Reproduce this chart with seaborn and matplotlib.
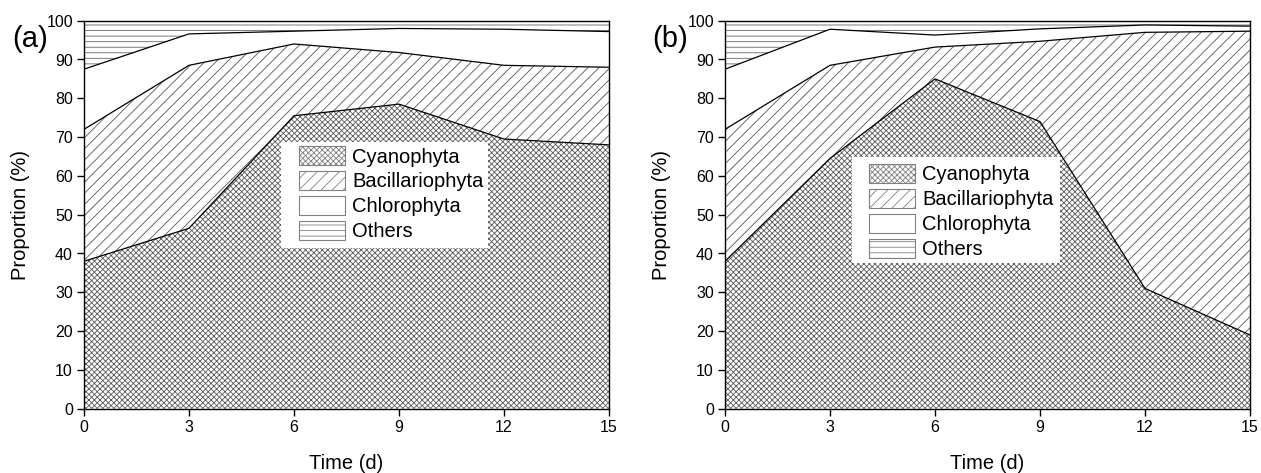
import numpy as np
import pandas as pd
import matplotlib
matplotlib.use("Agg")
import matplotlib.pyplot as plt
import seaborn as sns
from matplotlib.patches import Patch, Rectangle

# ---------------- data (proportions, %) ----------------
time_days = [0, 3, 6, 9, 12, 15]
groups = ["Cyanophyta", "Bacillariophyta", "Chlorophyta", "Others"]

a_cyano = [38.0, 46.5, 75.5, 78.5, 69.5, 68.0]
a_bacil = [34.0, 42.0, 18.5, 13.3, 19.0, 20.0]
a_chloro = [15.5, 8.1, 3.3, 6.2, 9.3, 9.2]

b_cyano = [38.0, 64.5, 85.0, 74.0, 31.0, 19.0]
b_bacil = [34.0, 24.0, 8.2, 20.7, 66.0, 78.3]
b_chloro = [15.5, 9.3, 3.1, 3.2, 1.9, 1.3]

panel_labels = ["(a)", "(b)"]
x_ticks = [0, 3, 6, 9, 12, 15]
y_ticks = list(range(0, 101, 10))

# ---------------- style ----------------
sns.set_theme(style="ticks")
plt.rcParams["font.family"] = ["Liberation Sans", "DejaVu Sans"]
plt.rcParams["hatch.linewidth"] = 0.6
for k in ["text.color", "axes.labelcolor", "xtick.color", "ytick.color"]:
    plt.rcParams[k] = "black"

hatches = ["xxxxxx", "///", "", "---"]
hatch_colors = ["#5a5a5a", "#555555", "#ffffff", "#666666"]

fig = plt.figure(figsize=(12.61, 4.73), dpi=100)
W, H = 1261, 473
ax_a = fig.add_axes([84 / W, 1 - 408.7 / H, 525 / W, 388 / H])
ax_b = fig.add_axes([725 / W, 1 - 408.7 / H, 525 / W, 388 / H])

# legend layout: (white box x0, x1, y_bottom, y_top), (anchor of legend contents), panel-label x
panels = [
    (ax_a, a_cyano, a_bacil, a_chloro, (0.3752, 0.7695, 0.414, 0.6874), (0.4095, 0.677), 12),
    (ax_b, b_cyano, b_bacil, b_chloro, (0.2419, 0.638, 0.3755, 0.6487), (0.2743, 0.631), 652),
]

for idx, (ax, cy, ba, ch, box, leg_pos, lab_x) in enumerate(panels):
    others = [100 - (c + b + h) for c, b, h in zip(cy, ba, ch)]
    df = pd.DataFrame({"time": time_days, groups[0]: cy, groups[1]: ba,
                       groups[2]: ch, groups[3]: others})
    cum = df[groups].cumsum(axis=1)
    lower = np.zeros(len(time_days))
    for g, hatch, hc in zip(groups, hatches, hatch_colors):
        upper = cum[g].to_numpy()
        ax.fill_between(df["time"], lower, upper, facecolor="white",
                        edgecolor=hc, hatch=hatch, linewidth=0, zorder=1)
        lower = upper
    for g in groups[:3]:
        sns.lineplot(x=df["time"], y=cum[g], ax=ax, color="black",
                     linewidth=0.9, zorder=3, legend=False)

    ax.set_xlim(0, 15)
    ax.set_ylim(0, 100)
    ax.set_xticks(x_ticks)
    ax.set_yticks(y_ticks)
    ax.tick_params(axis="both", direction="out", length=5, width=1,
                   labelsize=11.5, colors="black", pad=3)
    for s in ax.spines.values():
        s.set_linewidth(1.0)
        s.set_color("black")
        s.set_zorder(5)
    ax.set_xlabel("Time (d)", fontsize=14.5, labelpad=14)
    ax.set_ylabel("Proportion (%)", fontsize=14.5, labelpad=12)

    # white legend background
    x0, x1, yb, yt = box
    ax.add_patch(Rectangle((x0, yb), x1 - x0, yt - yb, transform=ax.transAxes,
                           facecolor="white", edgecolor="none", zorder=8))

    handles = [Patch(facecolor="white", edgecolor=hc, hatch=h, linewidth=0.8)
               for h, hc in zip(hatches, hatch_colors)]
    leg = ax.legend(handles, groups, loc="upper left", bbox_to_anchor=leg_pos,
                    fontsize=14.5, frameon=False, handlelength=2.3,
                    handleheight=1.1, labelspacing=0.22, handletextpad=0.35,
                    borderpad=0, borderaxespad=0)
    leg.set_zorder(10)
    for p in leg.get_patches():
        p.set_edgecolor("#808080")

    fig.text(lab_x / W, 1 - 25 / H, panel_labels[idx], fontsize=21,
             ha="left", va="top")

fig.savefig("out.png", dpi=100)
